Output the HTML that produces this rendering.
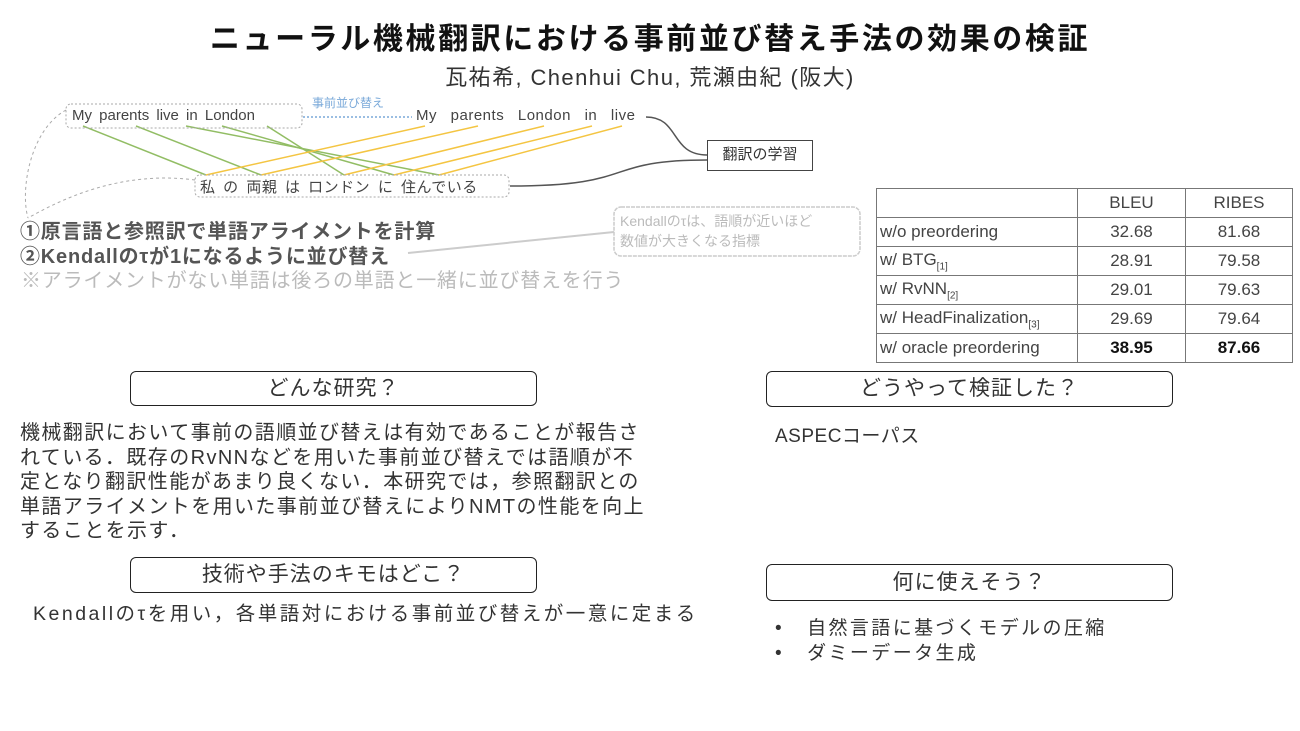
<!DOCTYPE html>
<html><head><meta charset="utf-8"><style>
body{margin:0;width:1300px;height:731px;background:#fff;position:relative;overflow:hidden;font-family:"Liberation Sans","Noto Sans CJK JP",sans-serif;color:#222}
.a{position:absolute;white-space:nowrap}
.box{position:absolute;border:1.6px solid #222;border-radius:6px;box-sizing:border-box;text-align:center;font-size:21px;color:#333;letter-spacing:1px}
table{position:absolute;left:876px;top:188px;border-collapse:collapse;font-size:17px;color:#444}
td{border:1.5px solid #777;height:29px;padding:0 3px;box-sizing:border-box}
td.n{text-align:center}
.p{font-size:20px;line-height:24.5px;letter-spacing:1.4px;color:#333}
</style></head><body>
<div class="a" style="left:0;width:1300px;text-align:center;top:14px;font-size:30px;font-weight:bold;letter-spacing:2.6px;color:#111">ニューラル機械翻訳における事前並び替え手法の効果の検証</div>
<div class="a" style="left:0;width:1300px;text-align:center;top:60px;font-size:22px;letter-spacing:1.4px;color:#333">瓦祐希, Chenhui Chu, 荒瀬由紀 (阪大)</div>

<svg class="a" style="left:0;top:0" width="870" height="300">
<g stroke="#7fb24a" stroke-width="1.5" opacity="0.85">
<line x1="83" y1="126" x2="206" y2="175"/><line x1="136" y1="126" x2="261" y2="175"/>
<line x1="186" y1="126" x2="439" y2="175"/><line x1="222" y1="126" x2="394" y2="175"/>
<line x1="267" y1="126" x2="344" y2="175"/></g>
<g stroke="#f4c542" stroke-width="1.5">
<line x1="425" y1="126" x2="206" y2="175"/><line x1="478" y1="126" x2="261" y2="175"/>
<line x1="544" y1="126" x2="344" y2="175"/><line x1="592" y1="126" x2="394" y2="175"/>
<line x1="622" y1="126" x2="439" y2="175"/></g>
<rect x="66" y="104" width="236" height="24" rx="5" fill="none" stroke="#aaa" stroke-dasharray="2,2"/>
<rect x="195" y="175" width="314" height="22" rx="5" fill="none" stroke="#aaa" stroke-dasharray="2,2"/>
<path d="M66 110 C30 130,20 190,28 218" fill="none" stroke="#aaa" stroke-dasharray="3,3"/>
<path d="M195 180 C120 170,60 200,28 218" fill="none" stroke="#aaa" stroke-dasharray="3,3"/>
<line x1="303" y1="117" x2="412" y2="117" stroke="#7aa9d9" stroke-dasharray="2,2" stroke-width="1.5"/>
<text x="312" y="107" font-size="12" fill="#7aa9d9">事前並び替え</text>
<path d="M646 117 C680 117,670 155,707 155" fill="none" stroke="#555" stroke-width="1.5"/>
<path d="M510 186 C640 186,600 160,707 160" fill="none" stroke="#555" stroke-width="1.5"/>
<line x1="408" y1="253" x2="614" y2="232" stroke="#ccc" stroke-width="2"/>
<rect x="614" y="207" width="246" height="49" rx="7" fill="#fff" stroke="#ccc" stroke-width="1.5" stroke-dasharray="4,1"/>
</svg>
<div class="a" style="left:72px;top:107px;font-size:15px;color:#444;word-spacing:3px">My parents live in London</div>
<div class="a" style="left:416px;top:107px;font-size:15px;color:#444;word-spacing:9px;letter-spacing:0.5px">My parents London in live</div>
<div class="a" style="left:200px;top:176px;font-size:15px;color:#444;word-spacing:3px;letter-spacing:0.5px">私 の 両親 は ロンドン に 住んでいる</div>
<div class="a" style="left:707px;top:140px;width:106px;height:31px;border:1.5px solid #444;box-sizing:border-box;font-size:15px;text-align:center;line-height:28px;color:#333">翻訳の学習</div>
<div class="a" style="left:620px;top:211px;font-size:14px;line-height:20px;color:#bbb">Kendallのτは、語順が近いほど<br>数値が大きくなる指標</div>
<div class="a" style="left:20px;top:215px;font-size:20px;color:#555;font-weight:bold;letter-spacing:0.8px">①原言語と参照訳で単語アライメントを計算</div>
<div class="a" style="left:20px;top:240px;font-size:20px;color:#555;font-weight:bold;letter-spacing:0.8px">②Kendallのτが1になるように並び替え</div>
<div class="a" style="left:21px;top:264px;font-size:20px;color:#bbb;letter-spacing:0.8px">※アライメントがない単語は後ろの単語と一緒に並び替えを行う</div>

<table>
<tr><td style="width:201px"></td><td class="n" style="width:108px">BLEU</td><td class="n" style="width:107px">RIBES</td></tr>
<tr><td>w/o preordering</td><td class="n">32.68</td><td class="n">81.68</td></tr>
<tr><td>w/ BTG<sub style="font-size:10px">[1]</sub></td><td class="n">28.91</td><td class="n">79.58</td></tr>
<tr><td>w/ RvNN<sub style="font-size:10px">[2]</sub></td><td class="n">29.01</td><td class="n">79.63</td></tr>
<tr><td>w/ HeadFinalization<sub style="font-size:10px">[3]</sub></td><td class="n">29.69</td><td class="n">79.64</td></tr>
<tr><td>w/ oracle preordering</td><td class="n"><b style="color:#111">38.95</b></td><td class="n"><b style="color:#111">87.66</b></td></tr>
</table>

<div class="box" style="left:130px;top:371px;width:407px;height:35px;line-height:33px">どんな研究？</div>
<div class="box" style="left:766px;top:371px;width:407px;height:36px;line-height:34px">どうやって検証した？</div>
<div class="box" style="left:130px;top:557px;width:407px;height:36px;line-height:34px">技術や手法のキモはどこ？</div>
<div class="box" style="left:766px;top:564px;width:407px;height:37px;line-height:35px">何に使えそう？</div>

<div class="a p" style="left:20px;top:421px">機械翻訳において事前の語順並び替えは有効であることが報告さ<br>れている．既存のRvNNなどを用いた事前並び替えでは語順が不<br>定となり翻訳性能があまり良くない．本研究では，参照翻訳との<br>単語アライメントを用いた事前並び替えによりNMTの性能を向上<br>することを示す．</div>
<div class="a" style="left:775px;top:421px;font-size:19px;color:#333;letter-spacing:0.5px">ASPECコーパス</div>
<div class="a" style="left:33px;top:597px;font-size:19.5px;color:#333;letter-spacing:2.5px">Kendallのτを用い，各単語対における事前並び替えが一意に定まる</div>
<div class="a" style="left:775px;top:616px;font-size:19px;line-height:25px;color:#333;letter-spacing:2.4px">•&nbsp;&nbsp;&nbsp;自然言語に基づくモデルの圧縮<br>•&nbsp;&nbsp;&nbsp;ダミーデータ生成</div>
</body></html>
